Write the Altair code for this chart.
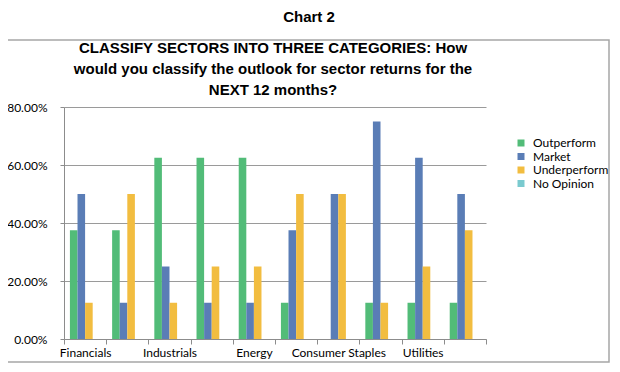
import json
import altair as alt
import pandas as pd

categories = ["Financials", "Information Technology", "Industrials", "Materials", "Energy",
              "Consumer Discretionary", "Consumer Staples", "Health Care", "Utilities",
              "Telecom Services"]
shown_labels = ["Financials", "Industrials", "Energy", "Consumer Staples", "Utilities"]
series = ["Outperform", "Market", "Underperform", "No Opinion"]
outperform = [0.375, 0.375, 0.625, 0.625, 0.625, 0.125, 0.0, 0.125, 0.125, 0.125]
market = [0.50, 0.125, 0.25, 0.125, 0.125, 0.375, 0.50, 0.75, 0.625, 0.50]
underperform = [0.125, 0.50, 0.125, 0.25, 0.25, 0.50, 0.50, 0.125, 0.25, 0.375]
no_opinion = [0, 0, 0, 0, 0, 0, 0, 0, 0, 0]
colors = ["#52BC78", "#5A7DB6", "#F2BD40", "#7ACACF"]
title_lines = ["CLASSIFY SECTORS INTO THREE CATEGORIES: How",
               "would you classify the outlook for sector returns for the",
               "NEXT 12 months?"]
header = "Chart 2"

rows = []
for name, vals in zip(series, [outperform, market, underperform, no_opinion]):
    for cat, v in zip(categories, vals):
        rows.append({"Sector": cat, "Series": name, "Value": v})
df = pd.DataFrame(rows)

label_expr = f"indexof({json.dumps(shown_labels)}, datum.value) >= 0 ? datum.label : ''"

bars = alt.Chart(df).mark_bar().encode(
    x=alt.X("Sector:N", sort=categories,
            scale=alt.Scale(paddingInner=0, paddingOuter=0),
            axis=alt.Axis(title=None, labelAngle=0, labelExpr=label_expr, tickBand="extent",
                          tickSize=5, tickColor="#8c8c8c", domainColor="#8c8c8c",
                          labelFont="Lato", labelFontSize=12, labelColor="#000000",
                          labelPadding=3)),
    xOffset=alt.XOffset("Series:N", sort=series,
                        scale=alt.Scale(paddingInner=0, paddingOuter=0.78)),
    y=alt.Y("Value:Q", scale=alt.Scale(domain=[0, 0.8]),
            axis=alt.Axis(title=None, values=[0, 0.2, 0.4, 0.6, 0.8], format=".2%",
                          gridColor="#9a9a9a", tickColor="#8c8c8c", domainColor="#8c8c8c",
                          tickSize=4, labelFont="Lato", labelFontSize=12,
                          labelColor="#000000", labelPadding=13)),
    color=alt.Color("Series:N", sort=series,
                    scale=alt.Scale(domain=series, range=colors),
                    legend=alt.Legend(title=None, orient="none", legendX=451, legendY=30,
                                      symbolType="square", symbolSize=49,
                                      symbolStrokeWidth=0, symbolOpacity=1,
                                      labelFont="Lato", labelFontSize=12,
                                      labelColor="#000000", rowPadding=1.5, labelOffset=6)),
)

frame = alt.Chart(pd.DataFrame({"k": [0]})).mark_rect(
    fill="white", fillOpacity=0, stroke="#a6a6a6", strokeWidth=1.5
).encode(x=alt.value(-57), x2=alt.value(545), y=alt.value(-67), y2=alt.value(255))

head = alt.Chart(pd.DataFrame({"t": [header]})).mark_text(
    font="Liberation Sans", fontWeight="bold", fontSize=15, color="#000000",
    align="center", baseline="middle"
).encode(text="t:N", x=alt.value(245), y=alt.value(-90))

title = alt.Chart(pd.DataFrame({"t": ["\n".join(title_lines)]})).mark_text(
    font="Liberation Sans", fontWeight="bold", fontSize=15, color="#000000",
    align="center", baseline="middle", lineBreak="\n", lineHeight=21
).encode(text="t:N", x=alt.value(209), y=alt.value(-59))

chart = alt.layer(frame, bars, head, title).properties(
    width=422, height=232,
    autosize=alt.AutoSizeParams(type="none"),
    padding={"left": 56, "top": 99, "right": 126, "bottom": 25},
).configure_view(strokeWidth=0)

chart.save("out.html", embed_options={"renderer": "svg", "actions": False})
